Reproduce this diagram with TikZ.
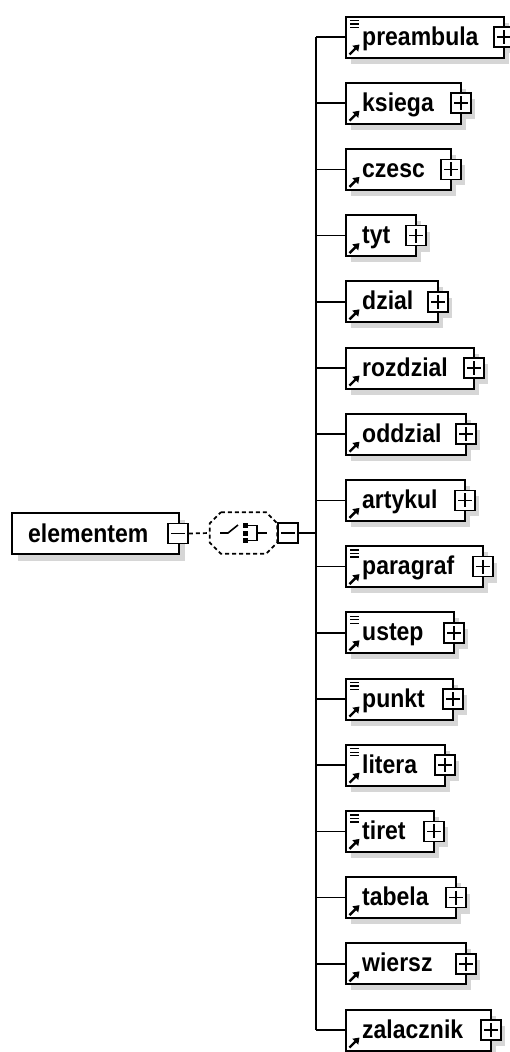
\documentclass[tikz,border=0pt]{standalone}
\usepackage{fontspec}
\setmainfont{Liberation Sans}
\usetikzlibrary{arrows.meta}
\newcommand{\tallbox}[1]{\scalebox{1}[1.12]{#1}}
\begin{document}
\begin{tikzpicture}[x=1pt,y=-1pt,
  box/.style={draw, line width=2pt, fill=white, minimum height=41pt, inner sep=0pt, anchor=west},
  lbl/.style={font=\fontsize{23}{23}\selectfont\bfseries, inner sep=0pt, anchor=base west},
  pm/.style={draw, fill=white, line width=1.6pt, minimum size=20pt, inner sep=0pt},
  plusbox/.style={pm, path picture={\draw[line width=1.6pt]
      ([xshift=3pt]path picture bounding box.west) -- ([xshift=-3pt]path picture bounding box.east)
      ([yshift=-3pt]path picture bounding box.north) -- ([yshift=3pt]path picture bounding box.south);}},
  minusbox/.style={pm, path picture={\draw[line width=1.6pt]
      ([xshift=3pt]path picture bounding box.west) -- ([xshift=-3pt]path picture bounding box.east);}},
  shadowc/.style={fill=black!16},
  arrowicon/.style={line width=2.4pt, -{Triangle[length=6pt,width=8pt]}},
  listicon/.style={line width=1.3pt},
  branch/.style={line width=1.7pt},
  trunk/.style={line width=2pt},
  dashline/.style={line width=1.7pt, dash pattern=on 4pt off 3pt},
]
\useasboundingbox (0,0) rectangle (510,1052);
\fill[white] (0,0) rectangle (510,1052);

% children
\foreach \i/\t/\r/\l in {0/preambula/503/1, 1/ksiega/460/0, 2/czesc/450/0, 3/tyt/415/0,
  4/dzial/437/0, 5/rozdzial/473/0, 6/oddzial/465/0, 7/artykul/464/0, 8/paragraf/482/1,
  9/ustep/453/1, 10/punkt/452/1, 11/litera/444/1, 12/tiret/433/1, 13/tabela/455/0,
  14/wiersz/465/0, 15/zalacznik/490/0} {
  \pgfmathsetmacro\y{37+66.2*\i}
  \pgfmathsetmacro\w{\r-345}
  \fill[shadowc] (351,\y-14.5) rectangle (\r+6,\y+26.5);
  \fill[shadowc] (\r-5,\y-4) rectangle (\r+15,\y+16);
  \node[box, minimum width=\w pt] (b\i) at (345,\y) {};
  \node[lbl] (t\i) at (362,\y+8) {\tallbox{\t}};
  \node[plusbox] (p\i) at ([xshift=-1pt]b\i.east) {};
  \draw[arrowicon] (349.5,\y+17.5) -- (359.5,\y+7.5);
  \ifnum\l=1
    \draw[listicon] (350,\y-16.5) -- (359,\y-16.5) (350,\y-13) -- (359,\y-13) (350,\y-9.5) -- (359,\y-9.5);
  \fi
  \coordinate (j\i) at (316,\y);
  \draw[branch] (j\i) -- (b\i.west);
}
\draw[trunk] (j0) -- (j15);

% root element
\fill[shadowc] (18,520) rectangle (185,561);
\node[box, minimum width=167pt] (root) at (11,533.5) {};
\node[lbl] (rootlbl) at (28,542.5) {\tallbox{elementem}};
\node[minusbox] (m1) at (178,533.5) {};

% sequence compositor
\node[minimum width=67pt, minimum height=41pt, inner sep=0pt] (seq) at (243.5,533) {};
\fill[shadowc, xshift=5pt, yshift=-5pt]
  ([xshift=11pt]seq.north west) -- ([xshift=-11pt]seq.north east) -- ([yshift=-11pt]seq.north east)
  -- ([yshift=11pt]seq.south east) -- ([xshift=-11pt]seq.south east) -- ([xshift=11pt]seq.south west)
  -- ([yshift=11pt]seq.south west) -- ([yshift=-11pt]seq.north west) -- cycle;
\draw[dashline, fill=white]
  ([xshift=11pt]seq.north west) -- ([xshift=-11pt]seq.north east) -- ([yshift=-11pt]seq.north east)
  -- ([yshift=11pt]seq.south east) -- ([xshift=-11pt]seq.south east) -- ([xshift=11pt]seq.south west)
  -- ([yshift=11pt]seq.south west) -- ([yshift=-11pt]seq.north west) -- cycle;
\draw[dashline] (m1.east) -- (seq.west);
% sequence symbol
\draw[line width=1.6pt] (220,533) -- (228,533) -- (238,525);
\fill (243,523) rectangle (248,528);
\fill (243,530.5) rectangle (248,535.5);
\fill (243,538) rectangle (248,543);
\draw[line width=1.5pt] (248,525.5) -- (257,525.5) -- (257,540.5) -- (248,540.5);
\draw[line width=1.5pt] (257,533) -- (267,533);

\node[minusbox] (m2) at (288,533) {};
\draw[branch] (seq.east) -- (m2.west);
\coordinate (jr) at (316,533);
\draw[branch] (m2.east) -- (jr);
\end{tikzpicture}
\end{document}
